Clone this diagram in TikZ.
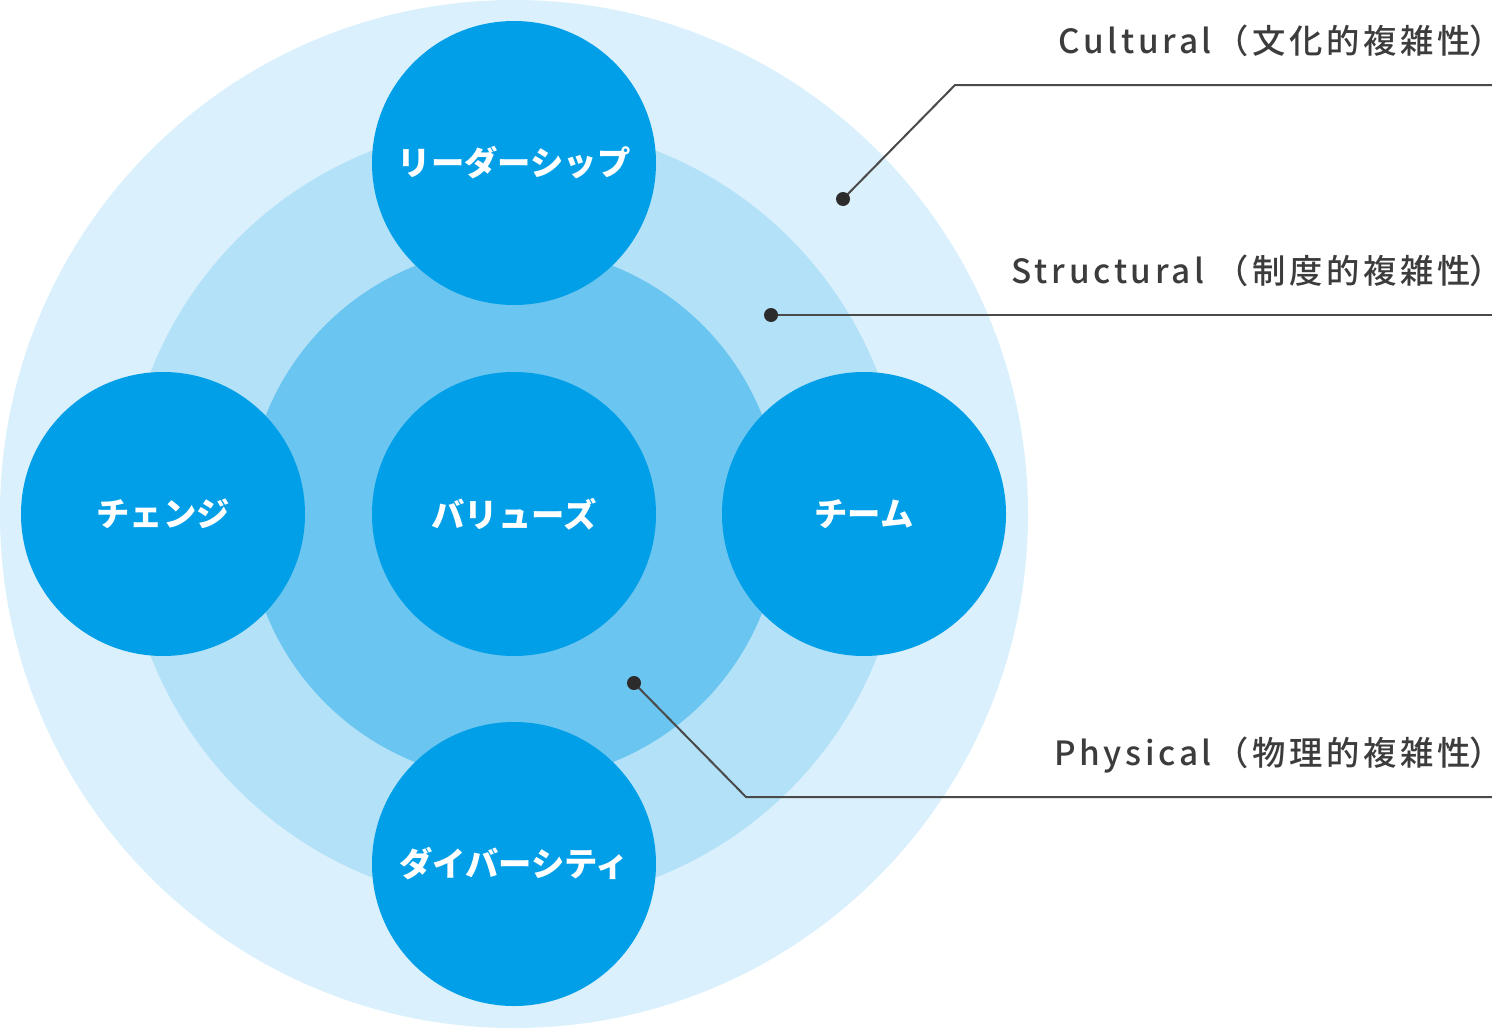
\documentclass[tikz,border=0pt]{standalone}
\usepackage{fontspec}
\setmainfont{Noto Sans CJK JP}
\newfontfamily\tagfont[LetterSpace=11]{Noto Sans CJK JP Medium}

\definecolor{ringout}{RGB}{218,240,252}
\definecolor{ringmid}{RGB}{179,226,248}
\definecolor{ringin}{RGB}{106,197,240}
\definecolor{themeblue}{RGB}{0,159,232}
\definecolor{leadgrey}{RGB}{74,74,74}
\definecolor{tagtext}{RGB}{60,60,60}

\newcommand{\closeparen}{{\addfontfeature{RawFeature=+palt}）}}

\tikzset{every picture/.style={line width=0.75pt}}
\tikzset{
  theme/.style={circle, fill=themeblue, minimum size=213pt, inner sep=0pt, text=white,
    font=\bfseries\fontsize{25}{30}\selectfont},
  leader/.style={draw=leadgrey, line width=1.5pt},
  tag/.style={anchor=base east, inner sep=0pt, text=tagtext, font=\tagfont\fontsize{25}{30}\selectfont}
}

\begin{document}
\begin{tikzpicture}[x=0.75pt,y=0.75pt,yscale=-1,xscale=1]
  \useasboundingbox (0,0) rectangle (1492,1028);

  % rings
  \coordinate (c) at (514,514);
  \fill [ringout] (c) circle [radius=514];
  \fill [ringmid] (c) circle [radius=390];
  \fill [ringin] (c) circle [radius=267];

  % themes
  \node [theme] (values) at (c) {バリューズ};
  \node [theme] (leader) at (514,163) {リーダーシップ};
  \node [theme] (change) at (163,514) {チェンジ};
  \node [theme] (team) at (864,514) {チーム};
  \node [theme] (diversity) at (514,864) {ダイバーシティ};

  % leaders
  \coordinate (cdot) at (843,199);
  \coordinate (cbend) at (955,85);
  \coordinate (cend) at (1492,85);
  \coordinate (sdot) at (771,315);
  \coordinate (send) at (1492,315);
  \coordinate (pdot) at (634,683);
  \coordinate (pbend) at (746,797);
  \coordinate (pend) at (1492,797);

  \draw [leader] (cdot) -- (cbend) -- (cend);
  \draw [leader] (sdot) -- (send);
  \draw [leader] (pdot) -- (pbend) -- (pend);
  \fill [leadgrey!60!black] (cdot) circle [radius=7] (sdot) circle [radius=7] (pdot) circle [radius=7];

  % tags
  \node [tag] (cultural) at (1488,53) {Cultural（文化的複雑性\closeparen};
  \node [tag] (structural) at (1488,283) {Structural （制度的複雑性\closeparen};
  \node [tag] (physical) at (1488,765) {Physical（物理的複雑性\closeparen};
\end{tikzpicture}
\end{document}
